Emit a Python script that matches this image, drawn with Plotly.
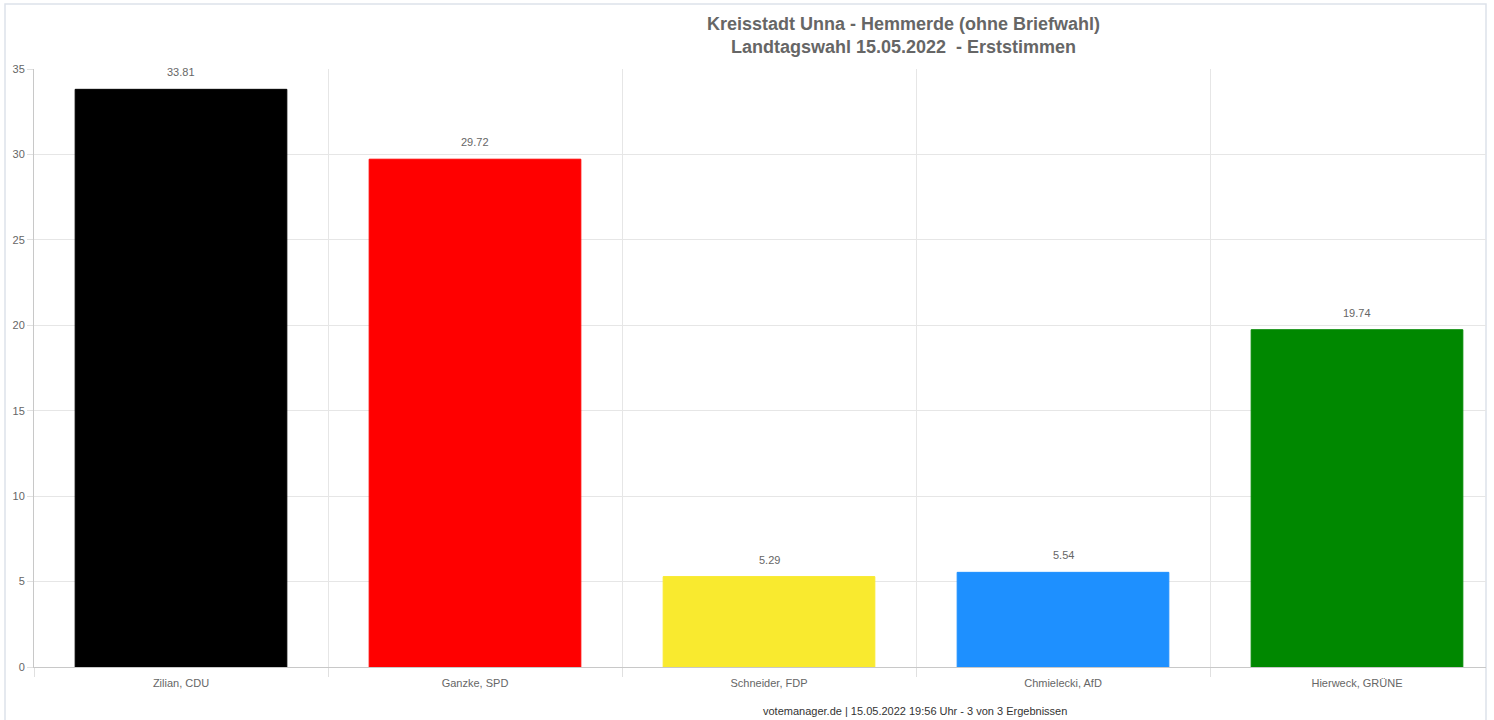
import plotly.graph_objects as go

candidates = ["Zilian, CDU", "Ganzke, SPD", "Schneider, FDP", "Chmielecki, AfD", "Hierweck, GRÜNE"]
values = [33.81, 29.72, 5.29, 5.54, 19.74]
bar_colors = ["#000000", "#ff0000", "#f9ea2f", "#1e90ff", "#008800"]
title_lines = ["Kreisstadt Unna - Hemmerde (ohne Briefwahl)", "Landtagswahl 15.05.2022  - Erststimmen"]
footer = "votemanager.de | 15.05.2022 19:56 Uhr - 3 von 3 Ergebnissen"
y_ticks = [0, 5, 10, 15, 20, 25, 30, 35]

W, H = 1494, 720
L, R, T, B = 34, 8, 69, 53
pw, ph = W - L - R, H - T - B
FONT = "Liberation Sans, Arial, Helvetica, sans-serif"

fig = go.Figure()
fig.add_trace(go.Bar(
    x=candidates, y=values,
    marker=dict(color=bar_colors, line=dict(color=bar_colors, width=1)),
    width=0.72, hoverinfo="x+y", showlegend=False,
))

for c, v in zip(candidates, values):
    fig.add_annotation(x=c, y=v, xref="x", yref="y", text=f"{v:.2f}",
                       showarrow=False, yshift=17,
                       font=dict(family=FONT, size=11, color="#666666"))

def px_x(p):
    return (p - L) / pw

def px_y(p):
    return (H - B - p) / ph

# title
fig.add_annotation(xref="paper", yref="paper", x=px_x(903), y=px_y(12), xanchor="center", yanchor="top",
                   text="<b>" + "<br>".join(title_lines) + "</b>", showarrow=False,
                   font=dict(family=FONT, size=18, color="#666666"))
# footer
fig.add_annotation(xref="paper", yref="paper", x=px_x(915), y=px_y(711), xanchor="center", yanchor="middle",
                   text=footer, showarrow=False,
                   font=dict(family=FONT, size=11, color="#333333"))

# frame
fig.add_shape(type="rect", xref="paper", yref="paper",
              x0=px_x(5), x1=px_x(1486), y0=px_y(730), y1=px_y(4),
              line=dict(color="#dde2ea", width=1.5), layer="below")

fig.update_layout(
    width=W, height=H,
    margin=dict(l=L, r=R, t=T, b=B),
    paper_bgcolor="white", plot_bgcolor="white",
    font=dict(family=FONT, size=11, color="#666666"),
    bargap=0.28,
    xaxis=dict(
        type="category", range=[-0.5, 4.5 - 18 / 294],
        tickson="boundaries", showgrid=True, gridcolor="#e6e6e6", gridwidth=1,
        ticks="outside", ticklen=9, tickcolor="#e0e0e0",
        showline=True, linecolor="#c8c8c8", linewidth=1,
        ticklabelstandoff=6,
        tickfont=dict(family=FONT, size=11, color="#666666"),
        fixedrange=True,
    ),
    yaxis=dict(
        range=[0, 35], tickvals=y_ticks, showgrid=True, gridcolor="#e6e6e6", gridwidth=1,
        ticks="outside", ticklen=6, tickcolor="#e0e0e0",
        showline=True, linecolor="#c8c8c8", linewidth=1,
        zeroline=False,
        tickfont=dict(family=FONT, size=11, color="#666666"),
        fixedrange=True,
    ),
)

fig.write_html("out.html", config={"displayModeBar": False},
               post_script="document.body.style.margin='0';document.body.style.overflow='hidden';")
